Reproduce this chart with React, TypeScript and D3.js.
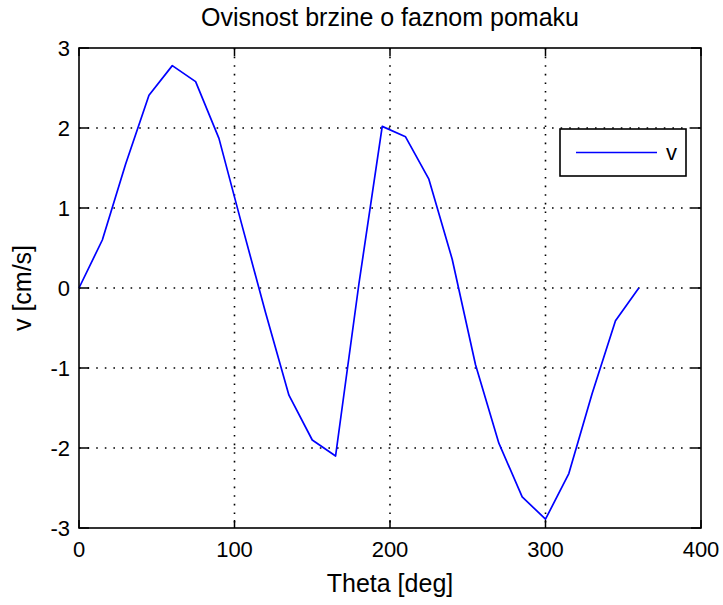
import React from "react";
import * as d3 from "d3";

const theta = [0, 15, 30, 45, 60, 75, 90, 105, 120, 135, 150, 165, 180, 195, 210, 225, 240, 255, 270, 285, 300, 315, 330, 345, 360];
const vel = [0, 0.6, 1.55, 2.41, 2.78, 2.58, 1.87, 0.77, -0.31, -1.34, -1.9, -2.1, 0.05, 2.02, 1.89, 1.36, 0.36, -0.96, -1.94, -2.61, -2.89, -2.32, -1.32, -0.41, 0];
const xTicks = [0, 100, 200, 300, 400];
const yTicks = [-3, -2, -1, 0, 1, 2, 3];
const titleText = "Ovisnost brzine o faznom pomaku";
const xLabel = "Theta [deg]";
const yLabel = "v [cm/s]";
const legendLabel = "v";

const W = 723, H = 605;
const L = 79, R = 701, T = 48, B = 528;
const FONT = "'Liberation Sans', Arial, Helvetica, sans-serif";

export default function App() {
  const x = d3.scaleLinear().domain([0, 400]).range([L, R]);
  const y = d3.scaleLinear().domain([-3, 3]).range([B, T]);
  const line = d3.line<number>().x((_, i) => x(theta[i])).y((d) => y(d));
  const path = line(vel) || "";
  const grid = { stroke: "#000", strokeWidth: 1.6, strokeDasharray: "1.6,7" };
  const tickX = 8, tickY = 10;
  return (
    <svg width={W} height={H} style={{ position: "absolute", left: 0, top: 0, background: "#fff" }} fontFamily={FONT}>
      <rect x={0} y={0} width={W} height={H} fill="#fff" />
      {xTicks.slice(1, -1).map((t) => (
        <line key={"gx" + t} x1={x(t)} x2={x(t)} y1={T} y2={B} {...grid} />
      ))}
      {yTicks.slice(1, -1).map((t) => (
        <line key={"gy" + t} x1={L} x2={R} y1={y(t)} y2={y(t)} {...grid} />
      ))}
      {xTicks.map((t) => (
        <g key={"tx" + t}>
          <line x1={x(t)} x2={x(t)} y1={B} y2={B - tickX} stroke="#000" strokeWidth={1.5} />
          <line x1={x(t)} x2={x(t)} y1={T} y2={T + tickX} stroke="#000" strokeWidth={1.5} />
          <text x={x(t)} y={B + 29} textAnchor="middle" fontSize={22} fill="#000">{t}</text>
        </g>
      ))}
      {yTicks.map((t) => (
        <g key={"ty" + t}>
          <line x1={L} x2={L + tickY} y1={y(t)} y2={y(t)} stroke="#000" strokeWidth={1.5} />
          <line x1={R} x2={R - tickY} y1={y(t)} y2={y(t)} stroke="#000" strokeWidth={1.5} />
          <text x={L - 9} y={y(t) + 8} textAnchor="end" fontSize={22} fill="#000">{t}</text>
        </g>
      ))}
      <path d={path} fill="none" stroke="#0000ff" strokeWidth={1.7} strokeLinejoin="round" />
      <rect x={L} y={T} width={R - L} height={B - T} fill="none" stroke="#000" strokeWidth={1.6} />
      <g>
        <rect x={560} y={129} width={126} height={47} fill="#fff" stroke="#000" strokeWidth={1.6} />
        <line x1={576} x2={657} y1={152.5} y2={152.5} stroke="#0000ff" strokeWidth={1.7} />
        <text x={666} y={160} fontSize={22} fill="#000">{legendLabel}</text>
      </g>
      <text x={(L + R) / 2} y={26} textAnchor="middle" fontSize={25} fill="#000">{titleText}</text>
      <text x={(L + R) / 2} y={592} textAnchor="middle" fontSize={25} fill="#000">{xLabel}</text>
      <text transform={`translate(31,${(T + B) / 2}) rotate(-90)`} textAnchor="middle" fontSize={25} fill="#000">{yLabel}</text>
    </svg>
  );
}
